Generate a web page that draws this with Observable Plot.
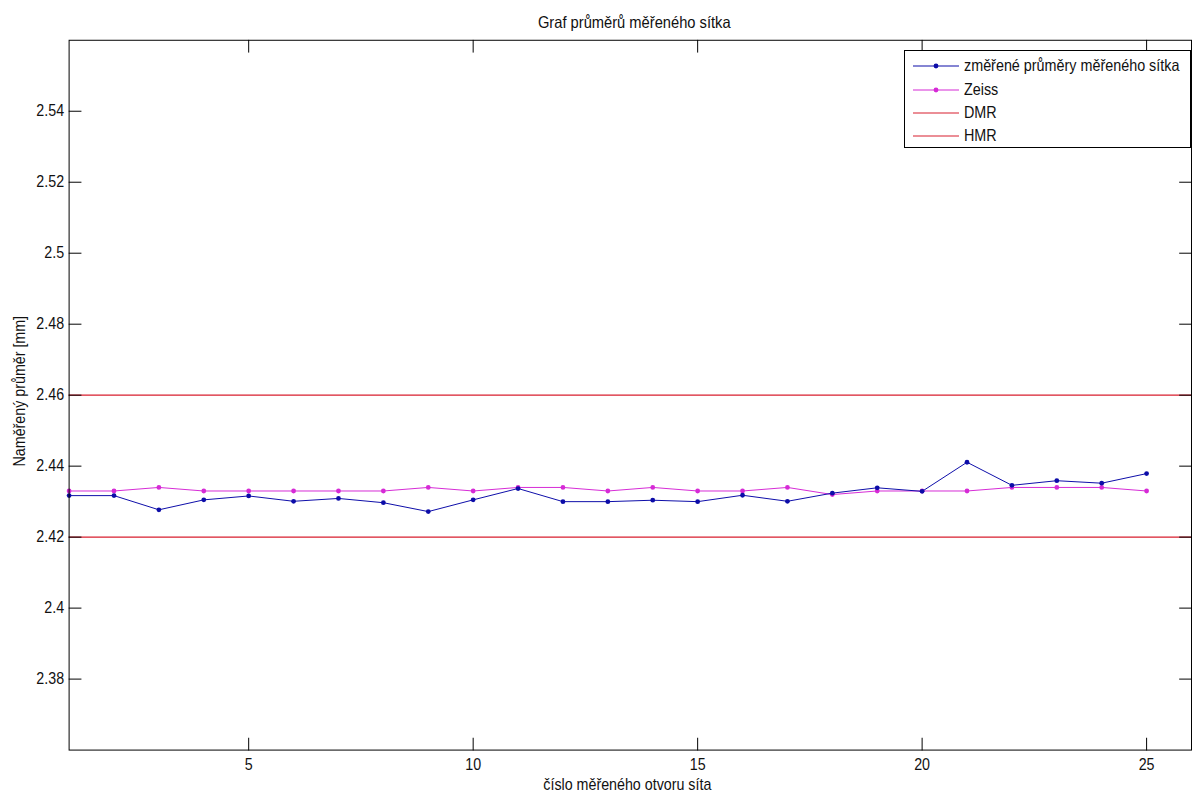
<!DOCTYPE html>
<html><head><meta charset="utf-8">
<script src="https://cdn.jsdelivr.net/npm/d3@7"></script>
<script src="https://cdn.jsdelivr.net/npm/@observablehq/plot@0.6"></script>
<style>
html,body{margin:0;padding:0;background:#fff;overflow:hidden;width:1192px;height:798px}
#wrap{position:relative;width:1192px;height:798px;overflow:hidden}
#legend{position:absolute;left:904px;top:50px;width:287px;height:98px;border:1px solid #000;background:#fff;box-sizing:border-box;
  font-family:"Liberation Sans",Arial,sans-serif;font-size:16.5px;color:#111}
.row{position:absolute;left:8px;height:23px;display:flex;align-items:center;white-space:nowrap}
.row svg{display:block;margin-right:5px}
.row span{display:inline-block;transform:scaleX(0.87);transform-origin:0 50%}
</style></head>
<body><div id="wrap"><div id="legend"></div></div>
<script>
// ---- data ----
const holes = [1,2,3,4,5,6,7,8,9,10,11,12,13,14,15,16,17,18,19,20,21,22,23,24,25];
const measured = [2.4317,2.4317,2.4277,2.4305,2.4316,2.4301,2.4309,2.4297,2.4272,2.4305,2.4337,2.4300,2.4300,2.4304,2.4300,2.4318,2.4301,2.4324,2.4339,2.4329,2.4411,2.4346,2.4359,2.4352,2.4379];
const zeiss = [2.433,2.433,2.434,2.433,2.433,2.433,2.433,2.433,2.434,2.433,2.434,2.434,2.433,2.434,2.433,2.433,2.434,2.432,2.433,2.433,2.433,2.434,2.434,2.434,2.433];
const DMR = 2.42;
const HMR = 2.46;
const xTicks = [5,10,15,20,25];
const yTicks = [2.38,2.4,2.42,2.44,2.46,2.48,2.5,2.52,2.54];
const xDomain = [1,26];
const yDomain = [2.36,2.56];
const title = "Graf průměrů měřeného sítka";
const xLabel = "číslo měřeného otvoru síta";
const yLabel = "Naměřený průměr [mm]";
const legendLabels = ["změřené průměry měřeného sítka","Zeiss","DMR","HMR"];
const legendColors = ["#0c0ca8","#d62ad6","#d81e2e","#d81e2e"];
const legendMarker = [true,true,false,false];

const cBlue = legendColors[0], cMag = legendColors[1], cRed = legendColors[2];
const font = '"Liberation Sans",Arial,sans-serif';
const fs = 16.5;
const squeeze = 0.87;
const ink = "#111";

const measRows = holes.map((h,i)=>({x:h,y:measured[i]}));
const zeissRows = holes.map((h,i)=>({x:h,y:zeiss[i]}));

const tickShape = {draw(ctx,l){ctx.moveTo(0,0);ctx.lineTo(0,-l);}};
const tk = {length:12, anchor:"start", shape:tickShape, stroke:"#000", strokeWidth:1};
const mid = {textAnchor: "middle", lineAnchor: "middle"};

const chart = Plot.plot({
  width: 1199, height: 798,
  marginLeft: 69, marginRight: 1, marginTop: 40, marginBottom: 44,
  style: {fontFamily: font, fontSize: fs+"px", color: ink, background: "transparent"},
  x: {domain: xDomain, label: null},
  y: {domain: yDomain, label: null},
  marks: [
    Plot.ruleY([DMR, HMR], {stroke: cRed, strokeWidth: 1.3}),
    Plot.line(zeissRows, {x:"x", y:"y", stroke: cMag, strokeWidth: 1}),
    Plot.dot(zeissRows, {x:"x", y:"y", r: 2.4, fill: cMag}),
    Plot.line(measRows, {x:"x", y:"y", stroke: cBlue, strokeWidth: 1}),
    Plot.dot(measRows, {x:"x", y:"y", r: 2.4, fill: cBlue}),
    Plot.frame({stroke: "#000", strokeWidth: 1}),
    Plot.vectorX(xTicks, {...tk, x: d=>d, frameAnchor: "bottom", rotate: 0}),
    Plot.vectorX(xTicks, {...tk, x: d=>d, frameAnchor: "top", rotate: 180}),
    Plot.vectorY(yTicks, {...tk, y: d=>d, frameAnchor: "left", rotate: 90}),
    Plot.vectorY(yTicks, {...tk, y: d=>d, frameAnchor: "right", rotate: -90}),
    Plot.axisX(xTicks, {tickSize: 0, tickPadding: 8, label: null, fontSize: fs, fill: ink}),
    Plot.axisY(yTicks, {tickSize: 0, tickPadding: 5, label: null, fontSize: fs, fill: ink, tickFormat: d => String(+d.toFixed(2))}),
    Plot.text([title], {...mid, text: d=>d, frameAnchor: "top", dy: -17.4, dx: 4, fontSize: 17, fill: ink}),
    Plot.text([xLabel], {...mid, text: d=>d, frameAnchor: "bottom", dy: 34.5, dx: -3, fontSize: fs, fill: ink}),
    Plot.text([yLabel], {...mid, text: d=>d, frameAnchor: "left", dx: -50, dy: -4, rotate: -90, fontSize: fs, fill: ink})
  ]
});

// narrow the glyphs horizontally around each text's own anchor (MATLAB-like condensed look)
chart.querySelectorAll("text").forEach(el => {
  const t = el.getAttribute("transform") || "";
  el.setAttribute("transform", `${t} scale(${squeeze},1)`.trim());
});

const wrap = document.getElementById("wrap");
wrap.insertBefore(chart, wrap.firstChild);

// legend
const lg = document.getElementById("legend");
const rowTops = [3, 27, 50, 73];
legendLabels.forEach((lab,i)=>{
  const row = document.createElement("div");
  row.className = "row";
  row.style.top = rowTops[i] + "px";
  const c = legendColors[i];
  row.innerHTML = `<svg width="46" height="10"><line x1="0" y1="5" x2="46" y2="5" stroke="${c}" stroke-width="1.2"/>${legendMarker[i] ? `<circle cx="23" cy="5" r="2.4" fill="${c}"/>` : ""}</svg><span>${lab}</span>`;
  lg.appendChild(row);
});
</script>
</body></html>
